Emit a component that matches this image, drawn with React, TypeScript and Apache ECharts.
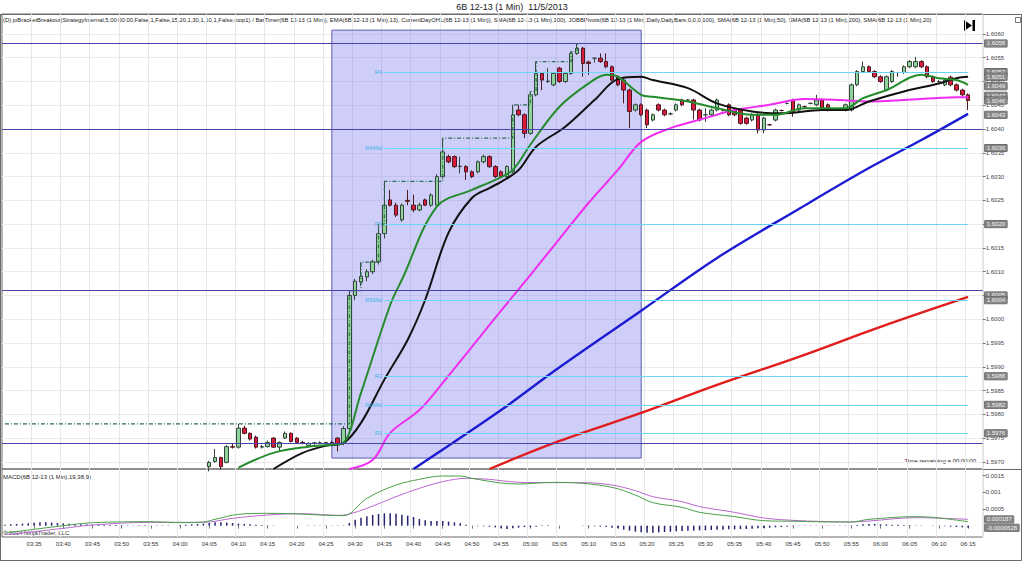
import React, { useEffect, useRef } from 'react';
import * as echarts from 'echarts';

// ---------- categories (1-minute bars, 03:30 .. 06:17) ----------
const START_MIN = 3 * 60 + 30;
const N_CAT = 168;
const categories: string[] = Array.from({ length: N_CAT }, (_, i) => {
  const m = START_MIN + i;
  return String(Math.floor(m / 60)).padStart(2, '0') + ':' + String(m % 60).padStart(2, '0');
});

// ---------- candles (first visible bar 04:05 = index 35) ----------
const firstBar = 35;
const opens = [
  1.59690, 1.59701, 1.59709, 1.59699, 1.59732, 1.59731, 1.59771, 1.59760, 1.59752, 1.59731,
  1.59732, 1.59750, 1.59731, 1.59750, 1.59760, 1.59750, 1.59741, 1.59734, 1.59739, 1.59740,
  1.59740, 1.59741, 1.59750, 1.59739, 1.59770, 1.60050, 1.60078, 1.60089, 1.60100, 1.60121,
  1.60180, 1.60251, 1.60240, 1.60209, 1.60250, 1.60240, 1.60230, 1.60251, 1.60240, 1.60240,
  1.60300, 1.60342, 1.60342, 1.60321, 1.60321, 1.60310, 1.60310, 1.60331, 1.60342, 1.60321,
  1.60310, 1.60300, 1.60310, 1.60440, 1.60430, 1.60391, 1.60472, 1.60517, 1.60500, 1.60493,
  1.60528, 1.60500, 1.60517, 1.60559, 1.60570, 1.60541, 1.60549, 1.60549, 1.60542, 1.60531,
  1.60510, 1.60503, 1.60482, 1.60440, 1.60451, 1.60440, 1.60419, 1.60451, 1.60440, 1.60432,
  1.60440, 1.60461, 1.60461, 1.60461, 1.60440, 1.60430, 1.60430, 1.60440, 1.60440, 1.60451,
  1.60440, 1.60440, 1.60423, 1.60419, 1.60430, 1.60398, 1.60409, 1.60419, 1.60439, 1.60454,
  1.60461, 1.60440, 1.60447, 1.60454, 1.60451, 1.60461, 1.60451, 1.60440, 1.60440, 1.60440,
  1.60440, 1.60493, 1.60521, 1.60531, 1.60521, 1.60510, 1.60482, 1.60500, 1.60519, 1.60519,
  1.60531, 1.60531, 1.60542, 1.60531, 1.60510, 1.60500, 1.60493, 1.60509, 1.60493, 1.60482, 1.60472,
];
const highs = [
  1.59702, 1.59727, 1.59711, 1.59735, 1.59738, 1.59780, 1.59776, 1.59762, 1.59755, 1.59736,
  1.59745, 1.59752, 1.59743, 1.59764, 1.59762, 1.59752, 1.59744, 1.59741, 1.59742, 1.59743,
  1.59742, 1.59744, 1.59752, 1.59775, 1.60060, 1.60085, 1.60120, 1.60105, 1.60125, 1.60200,
  1.60290, 1.60272, 1.60245, 1.60243, 1.60272, 1.60262, 1.60245, 1.60254, 1.60265, 1.60305,
  1.60381, 1.60346, 1.60345, 1.60342, 1.60324, 1.60313, 1.60334, 1.60346, 1.60345, 1.60324,
  1.60313, 1.60324, 1.60451, 1.60451, 1.60433, 1.60479, 1.60542, 1.60520, 1.60528, 1.60520,
  1.60531, 1.60520, 1.60563, 1.60580, 1.60573, 1.60544, 1.60550, 1.60559, 1.60559, 1.60534,
  1.60513, 1.60506, 1.60485, 1.60454, 1.60454, 1.60443, 1.60433, 1.60454, 1.60443, 1.60435,
  1.60454, 1.60464, 1.60463, 1.60464, 1.60443, 1.60444, 1.60443, 1.60464, 1.60443, 1.60454,
  1.60443, 1.60443, 1.60426, 1.60433, 1.60433, 1.60426, 1.60411, 1.60443, 1.60441, 1.60456,
  1.60464, 1.60454, 1.60449, 1.60456, 1.60472, 1.60464, 1.60454, 1.60442, 1.60442, 1.60454,
  1.60496, 1.60524, 1.60542, 1.60534, 1.60524, 1.60513, 1.60513, 1.60524, 1.60520, 1.60534,
  1.60545, 1.60552, 1.60545, 1.60534, 1.60513, 1.60503, 1.60506, 1.60512, 1.60496, 1.60485, 1.60475,
];
const lows = [
  1.59680, 1.59698, 1.59684, 1.59697, 1.59728, 1.59728, 1.59758, 1.59745, 1.59728, 1.59728,
  1.59730, 1.59729, 1.59722, 1.59748, 1.59741, 1.59739, 1.59737, 1.59732, 1.59736, 1.59737,
  1.59737, 1.59737, 1.59722, 1.59735, 1.59765, 1.60040, 1.60070, 1.60080, 1.60095, 1.60115,
  1.60170, 1.60237, 1.60215, 1.60205, 1.60240, 1.60225, 1.60227, 1.60238, 1.60236, 1.60236,
  1.60296, 1.60328, 1.60318, 1.60307, 1.60293, 1.60297, 1.60307, 1.60328, 1.60318, 1.60297,
  1.60297, 1.60297, 1.60307, 1.60427, 1.60381, 1.60388, 1.60469, 1.60482, 1.60497, 1.60490,
  1.60497, 1.60497, 1.60514, 1.60556, 1.60510, 1.60514, 1.60540, 1.60539, 1.60528, 1.60500,
  1.60490, 1.60454, 1.60402, 1.60437, 1.60427, 1.60402, 1.60416, 1.60437, 1.60427, 1.60429,
  1.60437, 1.60448, 1.60459, 1.60420, 1.60416, 1.60415, 1.60427, 1.60437, 1.60437, 1.60427,
  1.60427, 1.60409, 1.60409, 1.60416, 1.60391, 1.60391, 1.60407, 1.60416, 1.60437, 1.60452,
  1.60426, 1.60437, 1.60445, 1.60452, 1.60448, 1.60441, 1.60437, 1.60438, 1.60438, 1.60437,
  1.60437, 1.60490, 1.60518, 1.60518, 1.60507, 1.60497, 1.60479, 1.60497, 1.60510, 1.60516,
  1.60528, 1.60528, 1.60528, 1.60507, 1.60497, 1.60497, 1.60490, 1.60490, 1.60479, 1.60469, 1.60440,
];
const closes = [
  1.59699, 1.59709, 1.59690, 1.59732, 1.59731, 1.59771, 1.59760, 1.59748, 1.59731, 1.59732,
  1.59741, 1.59731, 1.59741, 1.59760, 1.59743, 1.59741, 1.59740, 1.59739, 1.59740, 1.59740,
  1.59741, 1.59740, 1.59739, 1.59770, 1.60050, 1.60080, 1.60090, 1.60100, 1.60121, 1.60180,
  1.60240, 1.60240, 1.60219, 1.60240, 1.60248, 1.60230, 1.60240, 1.60240, 1.60261, 1.60300,
  1.60352, 1.60331, 1.60321, 1.60322, 1.60310, 1.60300, 1.60331, 1.60342, 1.60321, 1.60300,
  1.60300, 1.60321, 1.60430, 1.60430, 1.60391, 1.60472, 1.60517, 1.60503, 1.60501, 1.60517,
  1.60500, 1.60517, 1.60559, 1.60570, 1.60538, 1.60538, 1.60549, 1.60542, 1.60531, 1.60503,
  1.60493, 1.60482, 1.60437, 1.60451, 1.60430, 1.60409, 1.60430, 1.60440, 1.60430, 1.60432,
  1.60451, 1.60451, 1.60461, 1.60440, 1.60419, 1.60430, 1.60440, 1.60461, 1.60440, 1.60430,
  1.60430, 1.60412, 1.60412, 1.60430, 1.60398, 1.60423, 1.60409, 1.60440, 1.60439, 1.60454,
  1.60437, 1.60451, 1.60447, 1.60454, 1.60461, 1.60444, 1.60440, 1.60440, 1.60440, 1.60451,
  1.60493, 1.60521, 1.60531, 1.60521, 1.60510, 1.60500, 1.60510, 1.60521, 1.60519, 1.60531,
  1.60542, 1.60542, 1.60531, 1.60510, 1.60500, 1.60500, 1.60503, 1.60493, 1.60482, 1.60472, 1.60460,
];

// ---------- moving averages: [barIndex, value] ----------
const ema13: [number, number][] = [
  [40, 1.59688], [46, 1.59719], [52, 1.59732], [56, 1.59736], [58, 1.59740], [61, 1.59845], [66, 1.60030],
  [68, 1.60083], [74, 1.60237], [80, 1.60272], [84, 1.60293], [87, 1.60314], [90, 1.60367], [95, 1.60447],
  [100, 1.60496], [103, 1.60514], [105, 1.60510], [109, 1.60472], [111, 1.60468], [117, 1.60458],
  [122, 1.60444], [128, 1.60430], [132, 1.60430], [137, 1.60444], [144, 1.60444], [147, 1.60465],
  [151, 1.60482], [157, 1.60514], [160, 1.60507], [163, 1.60503], [165, 1.60493],
];
const sma20: [number, number][] = [
  [46, 1.59685], [51, 1.59719], [55, 1.59734], [58, 1.59740], [61, 1.59782], [65, 1.59873], [69, 1.59957],
  [72, 1.60041], [76, 1.60182], [80, 1.60255], [83, 1.60276], [85, 1.60289], [88, 1.60314], [91, 1.60363],
  [96, 1.60405], [101, 1.60461], [105, 1.60505], [109, 1.60510], [111, 1.60503], [117, 1.60486],
  [122, 1.60454], [128, 1.60437], [133, 1.60433], [140, 1.60440], [144, 1.60440], [148, 1.60458],
  [154, 1.60479], [160, 1.60496], [163, 1.60507], [165, 1.60510],
];
const sma50: [number, number][] = [
  [59, 1.59685], [63, 1.59704], [66, 1.59761], [71, 1.59809], [75, 1.59866], [80, 1.59942], [85, 1.60018],
  [90, 1.60093], [95, 1.60169], [100, 1.60245], [105, 1.60314], [109, 1.60373], [114, 1.60402],
  [120, 1.60423], [125, 1.60440], [131, 1.60451], [137, 1.60463], [143, 1.60461], [148, 1.60458],
  [154, 1.60461], [163, 1.60467], [165, 1.60467],
];
const sma100: [number, number][] = [
  [70, 1.59685], [85, 1.59809], [95, 1.59899], [109, 1.60018], [122, 1.60129], [136, 1.60232],
  [148, 1.60318], [157, 1.60377], [165, 1.60432],
];
const sma200: [number, number][] = [
  [83, 1.59685], [95, 1.59744], [109, 1.59803], [122, 1.59862], [136, 1.59921], [150, 1.59984], [165, 1.60047],
];

// ---------- bracket breakout high (step line) ----------
const bracketSteps: [number, number][] = [
  [0, 1.5978], [59, 1.6006], [61, 1.6012], [64, 1.6020], [65, 1.6029], [75, 1.60381], [87, 1.60451],
  [90, 1.60479], [91, 1.60542], [97, 1.60563], [98, 1.6058], [165, 1.6058],
];
const bracketLevels = [1.6058, 1.6040, 1.6006, 1.5974];
const boxStart = '04:26';
const boxEnd = '05:19';
const boxTop = 1.60608;
const boxBottom = 1.59708;

// ---------- pivots ----------
const pivotNames = ['R4', 'R4Mid', 'R3', 'R3Mid', 'R2', 'R2Mid', 'R1'];
const pivotValues = [1.6052, 1.6036, 1.6020, 1.6004, 1.5988, 1.5982, 1.5976];
const pivotStart = '04:35';
const pivotEnd = '06:15';

// ---------- right-hand price flags ----------
const priceFlags = [1.6058, 1.6052, 1.6051, 1.6049, 1.6047, 1.6046, 1.6043, 1.6036, 1.6020, 1.6005, 1.6004, 1.5988, 1.5982, 1.5976];
const priceTicks = [
  1.5970, 1.5975, 1.5980, 1.5985, 1.5990, 1.5995, 1.6000, 1.6005, 1.6010, 1.6015,
  1.6020, 1.6025, 1.6030, 1.6035, 1.6040, 1.6045, 1.6050, 1.6055, 1.6060,
];

// ---------- MACD(19,38,9) ----------
const macdLine: [number, number][] = [
  [0, -0.00022], [5, -0.00011], [11, 0.00002], [15, 0.00009], [25, 0.00012], [30, 0.00009], [34, 0.00011],
  [36, 0.00019], [40, 0.00034], [45, 0.00037], [49, 0.00036], [54, 0.00032], [58, 0.00030], [62, 0.00082],
  [67, 0.00122], [71, 0.00139], [75, 0.00149], [78, 0.00149], [80, 0.00142], [85, 0.00128], [88, 0.00125],
  [94, 0.00130], [99, 0.00127], [104, 0.00115], [108, 0.00092], [111, 0.00069], [116, 0.00055],
  [119, 0.00040], [125, 0.00027], [130, 0.00015], [136, 0.00013], [142, 0.00011], [145, 0.00011],
  [148, 0.00019], [156, 0.00027], [159, 0.00025], [165, 0.00012],
];
const macdAvg: [number, number][] = [
  [0, -0.00027], [5, -0.00018], [10, -0.00008], [15, 0.00002], [25, 0.00010], [34, 0.00010], [39, 0.00022],
  [45, 0.00032], [51, 0.00036], [57, 0.00031], [59, 0.00035], [62, 0.00052], [67, 0.00087], [71, 0.00112],
  [75, 0.00132], [79, 0.00142], [83, 0.00139], [85, 0.00135], [88, 0.00130], [94, 0.00129], [99, 0.00129],
  [104, 0.00122], [108, 0.00105], [111, 0.00087], [116, 0.00072], [119, 0.00057], [125, 0.00040],
  [130, 0.00023], [136, 0.00015], [142, 0.00012], [145, 0.00011], [148, 0.00014], [156, 0.00024], [165, 0.00019],
];
// histogram in units of 1e-5
const macdDiffE5 = [
  3, 4, 5, 6, 7, 9, 10, 10, 9, 8,
  7, 6, 5, 4, 4, 3, 3, 2, 2, 2,
  2, 1, 1, 1, 1, 0, -1, -1, -1, 0,
  2, 3, 4, 5, 6, 8, 10, 10, 9, 8,
  6, 5, 4, 3, 2, 1, 1, 0, 0, 0,
  0, 0, -1, -1, -1, -1, -1, -1, 1, 8,
  18, 24, 28, 32, 35, 37, 37, 36, 33, 30,
  26, 20, 16, 14, 14, 14, 12, 10, 7, 3,
  0, -2, -2, -3, -5, -8, -10, -8, -6, -4,
  -4, -3, 1, 1, 0, 0, 0, 0, 0, -1,
  -2, -2, -3, -4, -6, -8, -12, -15, -18, -20,
  -21, -21, -20, -19, -18, -17, -16, -15, -15, -14,
  -14, -13, -12, -12, -11, -11, -10, -10, -9, -8,
  -7, -6, -5, -4, -3, -2, -1, -1, -1, -1,
  -1, -1, -1, -1, -1, 1, 2, 4, 5, 5,
  4, 4, 3, 3, 2, 2, 1, 1, 0, -1,
  -1, -2, -3, -4, -5, -6,
];
const macdFlags = [{ v: 0.000187, t: '0.000187' }, { v: -0.0000628, t: '-0.0000628' }];
const macdTicks = [0.0005, 0.001, 0.0015];

const legendText =
  '(D) joBracketBreakout(StrategyInternal,5,00:00:00,False,1,False,15,20,1,30,1,10,1,False,stop1) / BarTimer(6B 12-13 (1 Min)), EMA(6B 12-13 (1 Min),13), CurrentDayOHL(6B 12-13 (1 Min)), SMA(6B 12-13 (1 Min),100), JOBBPivots(6B 12-13 (1 Min),Daily,DailyBars,0,0,0,100), SMA(6B 12-13 (1 Min),50), SMA(6B 12-13 (1 Min),200), SMA(6B 12-13 (1 Min),20)';

const FONT = 'Liberation Sans, Arial, sans-serif';

function buildOption() {
  const candleData = categories.map((_, i) => {
    const k = i - firstBar;
    if (k < 0 || k >= opens.length) return '-';
    return [opens[k], closes[k], lows[k], highs[k]];
  });
  const showTick = (idx: number) => idx >= 5 && idx <= 165 && idx % 5 === 0;
  const gridLeft = 2;
  const gridWidth = N_CAT * 5.8375;

  const maLine = (name: string, data: [number, number][], color: string, width: number) => ({
    name, type: 'line', xAxisIndex: 0, yAxisIndex: 0, data, smooth: 0.35, symbol: 'none',
    lineStyle: { color, width }, z: 4, silent: true,
  });
  const flagLabel = {
    show: true, position: 'end', distance: 2, fontSize: 6, lineHeight: 7, fontFamily: FONT, color: '#f4f4f4',
    backgroundColor: '#858585', borderColor: '#505050', borderWidth: 0.5, padding: [0, 2, 0, 2],
  };
  const hiddenLine = { color: 'rgba(0,0,0,0)', width: 0 };

  return {
    animation: false,
    backgroundColor: '#ffffff',
    textStyle: { fontFamily: FONT },
    grid: [
      { left: gridLeft, width: gridWidth, top: 14, height: 455, show: true, borderColor: '#6a6a6a', borderWidth: 1 },
      { left: gridLeft, width: gridWidth, top: 469, height: 68, show: true, borderColor: '#6a6a6a', borderWidth: 1 },
    ],
    xAxis: [
      {
        type: 'category', gridIndex: 0, data: categories, boundaryGap: true,
        axisLabel: { show: false }, axisTick: { show: false }, axisLine: { show: false },
        splitLine: { show: true, interval: (i: number) => showTick(i), lineStyle: { color: '#e8e8e8', width: 1 } },
      },
      {
        type: 'category', gridIndex: 1, data: categories, boundaryGap: true,
        axisLine: { show: false },
        axisTick: { show: true, interval: (i: number) => showTick(i), alignWithLabel: true, length: 3, lineStyle: { color: '#777' } },
        axisLabel: { show: true, interval: (i: number) => showTick(i), fontSize: 6, color: '#333', margin: 4, fontFamily: FONT },
        splitLine: { show: true, interval: (i: number) => showTick(i), lineStyle: { color: '#e8e8e8', width: 1 } },
      },
    ],
    yAxis: [
      {
        type: 'value', gridIndex: 0, position: 'right', min: 1.59685, max: 1.60642, scale: true,
        axisLine: { show: false },
        axisTick: { show: true, length: 3, customValues: priceTicks, lineStyle: { color: '#777' } },
        axisLabel: { show: true, customValues: priceTicks, fontSize: 6, color: '#444', margin: 3, fontFamily: FONT,
          formatter: (v: number) => v.toFixed(4) },
        splitLine: { show: true, lineStyle: { color: '#ececec', width: 1 } },
      },
      {
        type: 'value', gridIndex: 1, position: 'right', min: -0.00034, max: 0.0017, scale: true,
        axisLine: { show: false },
        axisTick: { show: true, length: 3, customValues: macdTicks, lineStyle: { color: '#777' } },
        axisLabel: { show: true, customValues: macdTicks, fontSize: 6, color: '#444', margin: 3, fontFamily: FONT,
          formatter: (v: number) => String(v) },
        splitLine: { show: false },
      },
    ],
    series: [
      {
        name: 'price', type: 'candlestick', xAxisIndex: 0, yAxisIndex: 0, data: candleData, barWidth: 4, z: 2,
        itemStyle: { color: '#8fd49c', color0: '#dc1a3c', borderColor: '#35453a', borderColor0: '#4a1a22', borderWidth: 1 },
        silent: true,
        markLine: {
          silent: true, symbol: ['none', 'none'], animation: false, precision: 6,
          lineStyle: { color: '#4646a8', width: 1, type: 'solid' },
          label: { show: false },
          data: bracketLevels.map((v) => ({ yAxis: v })),
        },
      },
      {
        name: 'pivots', type: 'line', xAxisIndex: 0, yAxisIndex: 0, data: [], z: 3,
        markLine: {
          silent: true, symbol: ['none', 'none'], animation: false, precision: 6,
          lineStyle: { color: '#6ad6f4', width: 1, type: 'solid' },
          label: { show: true, position: 'start', distance: 2, formatter: '{b}', fontSize: 6, color: '#3fb6ea', fontFamily: FONT },
          data: pivotValues.map((v, k) => [
            { coord: [pivotStart, v], name: pivotNames[k] },
            { coord: [pivotEnd, v] },
          ]),
        },
      },
      {
        name: 'bracketHigh', type: 'line', xAxisIndex: 0, yAxisIndex: 0, data: bracketSteps, step: 'end',
        symbol: 'none', z: 3, silent: true,
        lineStyle: { color: '#2f6c56', width: 1.2, type: [4, 2, 1, 2] },
      },
      maLine('SMA200', sma200, '#e01c1c', 2.4),
      maLine('SMA100', sma100, '#1c1cd4', 2.4),
      maLine('SMA50', sma50, '#f02cf0', 2),
      maLine('SMA20', sma20, '#111111', 2),
      maLine('EMA13', ema13, '#248c2c', 2),
      {
        name: 'box', type: 'line', xAxisIndex: 0, yAxisIndex: 0, data: [], z: 6,
        markArea: {
          silent: true,
          itemStyle: { color: 'rgba(92,92,236,0.30)', borderColor: '#5c5cb0', borderWidth: 1 },
          data: [[{ coord: [boxStart, boxTop] }, { coord: [boxEnd, boxBottom] }]],
        },
      },
      {
        name: 'flags', type: 'candlestick', xAxisIndex: 0, yAxisIndex: 0, data: [], z: 7,
        markLine: {
          silent: true, symbol: ['none', 'none'], animation: false, precision: 6,
          lineStyle: hiddenLine,
          label: { ...flagLabel, formatter: (p: any) => Number(p.value).toFixed(4) },
          data: priceFlags.map((v) => ({ yAxis: v })),
        },
      },
      {
        name: 'Diff', type: 'bar', xAxisIndex: 1, yAxisIndex: 1, barWidth: 1.5, z: 2, silent: true,
        data: macdDiffE5.map((v) => v * 1e-5),
        itemStyle: { color: '#23236e' },
      },
      {
        name: 'Avg', type: 'line', xAxisIndex: 1, yAxisIndex: 1, data: macdAvg, smooth: 0.35, symbol: 'none',
        lineStyle: { color: '#b868cc', width: 1 }, z: 3, silent: true,
      },
      {
        name: 'Macd', type: 'line', xAxisIndex: 1, yAxisIndex: 1, data: macdLine, smooth: 0.35, symbol: 'none',
        lineStyle: { color: '#4aa04a', width: 1 }, z: 3, silent: true,
        markLine: {
          silent: true, symbol: ['none', 'none'], animation: false, precision: 8,
          lineStyle: hiddenLine,
          label: { ...flagLabel, formatter: '{b}' },
          data: macdFlags.map((f) => ({ yAxis: f.v, name: f.t })),
        },
      },
    ],
    graphic: [
      { type: 'text', x: 512, y: 2, silent: true,
        style: { text: '6B 12-13 (1 Min)  11/5/2013', fill: '#222', font: '9px ' + FONT, textAlign: 'center', textVerticalAlign: 'top' } },
      { type: 'text', x: 3, y: 17, silent: true,
        style: { text: legendText, fill: '#222', font: '5.85px ' + FONT, textVerticalAlign: 'top' } },
      { type: 'text', x: 3, y: 474, silent: true,
        style: { text: 'MACD(6B 12-13 (1 Min),19,38,9)', fill: '#222', font: '6px ' + FONT, textVerticalAlign: 'top' } },
      { type: 'text', x: 3, y: 530, silent: true,
        style: { text: '\u00a9 2014 NinjaTrader, LLC', fill: '#333', font: '6px ' + FONT, textVerticalAlign: 'top' } },
      { type: 'text', x: 976, y: 458, silent: true,
        style: { text: 'Time remaining = 00:00:00', fill: '#222', font: '6px ' + FONT, textAlign: 'right', textVerticalAlign: 'top' } },
      { type: 'polygon', silent: true, shape: { points: [[964, 20], [964, 31], [972, 25.5]] }, style: { fill: '#000' } },
      { type: 'rect', silent: true, shape: { x: 972.5, y: 20, width: 2.5, height: 11 }, style: { fill: '#000' } },
      { type: 'rect', silent: true, shape: { x: 1015.5, y: 17.5, width: 5, height: 5 }, style: { fill: 'none', stroke: '#777', lineWidth: 1 } },
      { type: 'line', silent: true, shape: { x1: 0, y1: 14.5, x2: 1021.5, y2: 14.5 }, style: { stroke: '#6a6a6a', lineWidth: 1 } },
      { type: 'line', silent: true, shape: { x1: 1021.5, y1: 14.5, x2: 1021.5, y2: 560.5 }, style: { stroke: '#6a6a6a', lineWidth: 1 } },
      { type: 'line', silent: true, shape: { x1: 0.5, y1: 14.5, x2: 0.5, y2: 560.5 }, style: { stroke: '#6a6a6a', lineWidth: 1 } },
      { type: 'line', silent: true, shape: { x1: 0, y1: 560.5, x2: 1021.5, y2: 560.5 }, style: { stroke: '#6a6a6a', lineWidth: 1 } },
      { type: 'line', silent: true, shape: { x1: 982.7, y1: 469.5, x2: 1021.5, y2: 469.5 }, style: { stroke: '#6a6a6a', lineWidth: 1 } },
    ],
  };
}

export default function App() {
  const ref = useRef<HTMLDivElement>(null);
  useEffect(() => {
    if (!ref.current) return;
    const chart = echarts.init(ref.current, null, { renderer: 'svg' });
    chart.setOption(buildOption() as any);
    return () => chart.dispose();
  }, []);
  return (
    <div
      ref={ref}
      style={{ position: 'fixed', left: 0, top: 0, width: 1024, height: 562, background: '#ffffff' }}
    />
  );
}
